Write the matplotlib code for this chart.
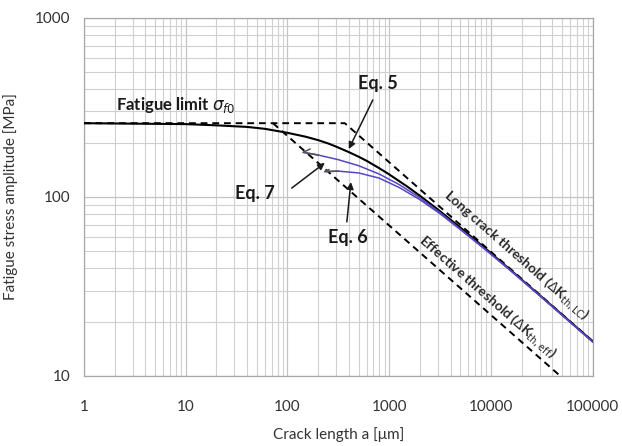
import matplotlib
matplotlib.use("Agg")
import matplotlib.pyplot as plt
from matplotlib.ticker import FixedLocator, FixedFormatter, LogLocator, NullFormatter

plt.rcParams["font.family"] = ["Lato", "DejaVu Sans"]
plt.rcParams["mathtext.fontset"] = "dejavusans"

# Crack length [um] and fatigue stress amplitude [MPa]
fatigue_limit = 258

# Fatigue limit plateau + long crack threshold (dashed)
lc_a = [1, 366, 100000]
lc_s = [258, 258, 15.6]

# Effective threshold (dashed)
eff_a = [72, 47900]
eff_s = [258, 10]

# Eq. 5 (solid black)
eq5_a = [1, 10, 20, 40, 60, 100, 150, 200, 250, 300, 400, 500, 600, 800, 1000, 1500,
         2000, 3000, 5000, 10000, 30000, 100000]
eq5_s = [258, 255, 251, 246, 240, 228, 217, 207.5, 199, 191, 178, 167.7, 159, 144.5,
         133.5, 114.3, 101.5, 85.1, 67.4, 48.5, 28.3, 15.6]

# Eq. 7 (upper blue); the first three points form the start hook
eq7_a = [166, 143, 200, 316, 501, 794, 1259, 1995, 3162, 5012, 7943, 15849, 39811, 100000]
eq7_s = [185, 177.3, 171.4, 161.4, 149.3, 134.3, 117, 98.9, 81.7, 66.1, 53.5, 38.5, 24.5, 15.5]

# Eq. 6 (lower blue); the first three points form the start hook
eq6_a = [255, 233, 316, 501, 794, 1259, 1995, 3162, 5012, 7943, 15849, 39811, 100000]
eq6_s = [142, 138.5, 139.3, 136.1, 127.4, 112.7, 96.6, 80.5, 65.6, 53.2, 38.5, 24.5, 15.5]

x_ticks = [1, 10, 100, 1000, 10000, 100000]
x_tick_labels = ["1", "10", "100", "1000", "10000", "100000"]
y_ticks = [10, 100, 1000]
y_tick_labels = ["10", "100", "1000"]

fig = plt.figure(figsize=(6.22, 4.46), dpi=100)
ax = fig.add_axes([0.135, 0.157, 0.818, 0.803])
ax.set_xscale("log")
ax.set_yscale("log")
ax.set_xlim(1, 1e5)
ax.set_ylim(10, 1000)

ax.xaxis.set_major_locator(FixedLocator(x_ticks))
ax.xaxis.set_major_formatter(FixedFormatter(x_tick_labels))
ax.yaxis.set_major_locator(FixedLocator(y_ticks))
ax.yaxis.set_major_formatter(FixedFormatter(y_tick_labels))
ax.xaxis.set_minor_locator(LogLocator(base=10, subs=range(2, 10), numticks=20))
ax.yaxis.set_minor_locator(LogLocator(base=10, subs=range(2, 10), numticks=20))
ax.xaxis.set_minor_formatter(NullFormatter())
ax.yaxis.set_minor_formatter(NullFormatter())

ax.grid(which="major", color="#c4c4c4", lw=0.9)
ax.grid(which="minor", color="#d0d0d0", lw=0.8)
ax.set_axisbelow(True)
for sp in ax.spines.values():
    sp.set_color("#a8a8a8")
    sp.set_linewidth(0.9)

ax.tick_params(which="both", length=0)
ax.tick_params(axis="x", labelsize=11, labelcolor="#333333", pad=17)
ax.tick_params(axis="y", labelsize=11, labelcolor="#333333", pad=10)

ax.set_xlabel("Crack length a [\u03bcm]", fontsize=11, color="#333333", labelpad=10)
ax.set_ylabel("Fatigue stress amplitude [MPa]", fontsize=11, color="#333333", labelpad=12)

dash = (3.5, 2.5)
ax.plot(lc_a, lc_s, color="black", lw=1.4, dashes=dash, zorder=3)
ax.plot(eff_a, eff_s, color="black", lw=1.4, dashes=dash, zorder=3)
ax.plot(eq5_a, eq5_s, color="black", lw=1.5, zorder=4)

blue = "#5547c4"
ax.plot(eq7_a[1:], eq7_s[1:], color=blue, lw=1.1, zorder=5)
ax.plot(eq7_a[:3], eq7_s[:3], color="#555555", lw=1.1, zorder=6)
ax.plot(eq6_a[1:], eq6_s[1:], color=blue, lw=1.1, zorder=5)
ax.plot(eq6_a[:3], eq6_s[:3], color="#555555", lw=1.1, zorder=6)

ax.text(8.0, 327, r"Fatigue limit $\sigma_{f0}$", fontsize=12, fontweight="bold",
        ha="center", va="center", color="#1a1a1a")

arrow = dict(arrowstyle="-|>", color="#1a1a1a", lw=1.1, mutation_scale=10, shrinkA=0, shrinkB=0)
eq_style = dict(fontsize=13, fontweight="bold", ha="center", va="center", color="#1a1a1a", zorder=7)

ax.text(773, 428, "Eq. 5", **eq_style)
ax.annotate("", xy=(400, 185), xytext=(690, 348), arrowprops=arrow, zorder=7)
ax.text(48, 105, "Eq. 7", **eq_style)
ax.annotate("", xy=(233, 155), xytext=(110, 112), arrowprops=arrow, zorder=7)
ax.text(392, 59, "Eq. 6", **eq_style)
ax.annotate("", xy=(420, 121), xytext=(383, 72.5), arrowprops=arrow, zorder=7)

ax.text(17740, 47.5, r"Long crack threshold ($\Delta$K$_{\mathrm{th,LC}}$)", fontsize=10,
        fontweight="bold", rotation=-41.3, rotation_mode="anchor",
        ha="center", va="center", color="#2a2a2a")
ax.text(9330, 27.6, r"Effective threshold ($\Delta$K$_{\mathrm{th,eff}}$)", fontsize=10,
        fontweight="bold", rotation=-41.3, rotation_mode="anchor",
        ha="center", va="center", color="#2a2a2a")

fig.savefig("out.png", dpi=100)
